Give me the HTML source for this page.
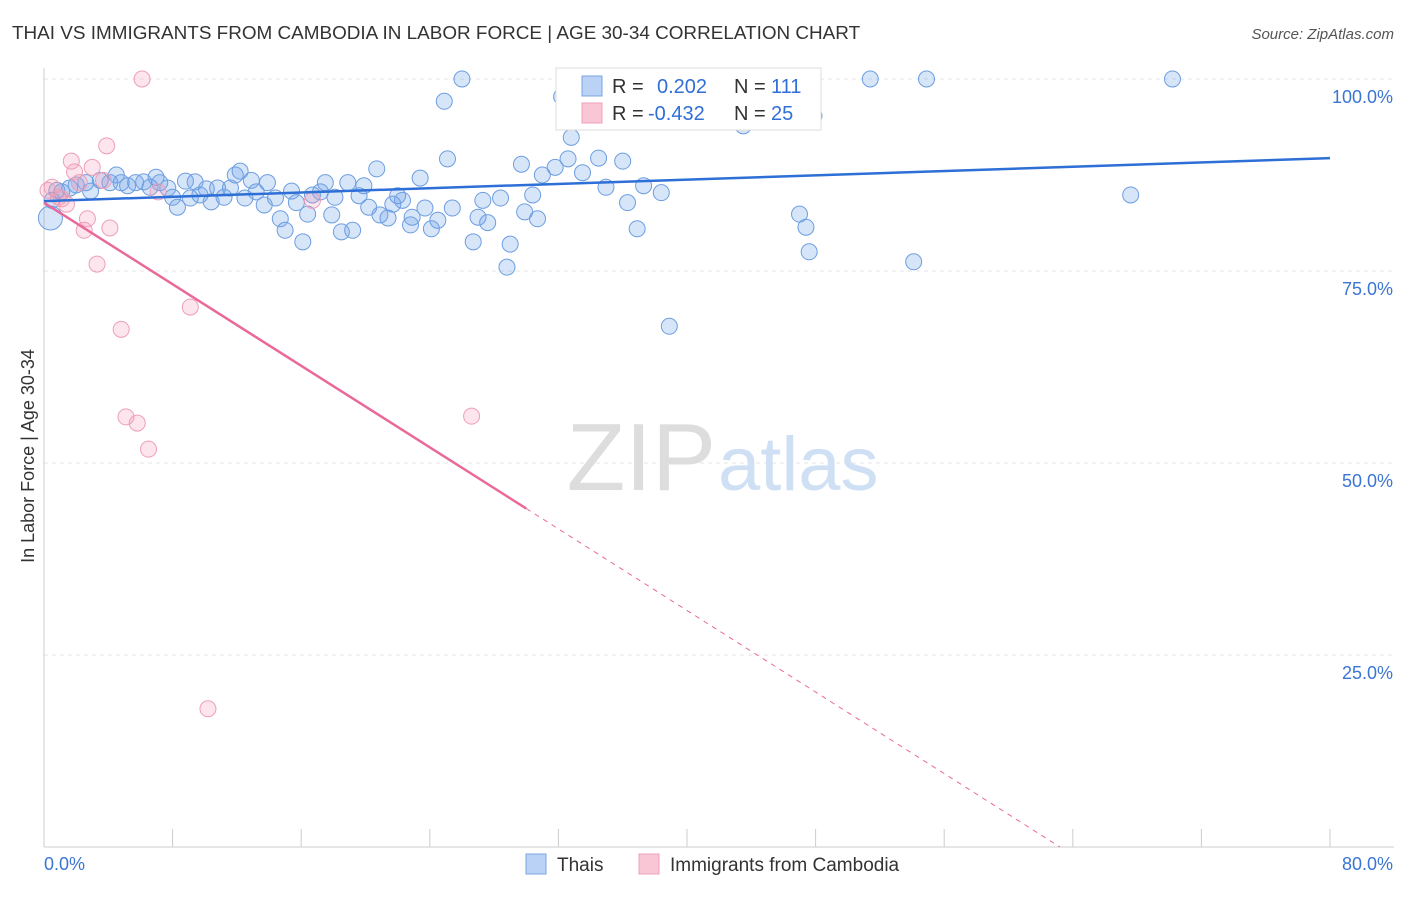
<!DOCTYPE html>
<html><head><meta charset="utf-8"><style>
body{margin:0;background:#fff;font-family:"Liberation Sans",sans-serif}
svg text{font-family:"Liberation Sans",sans-serif}
</style></head><body>
<svg id="chart" width="1406" height="892">
<text x="12" y="39" font-size="18.9" fill="#333">THAI VS IMMIGRANTS FROM CAMBODIA IN LABOR FORCE | AGE 30-34 CORRELATION CHART</text>
<text x="1394" y="39" font-size="15" fill="#555" text-anchor="end" font-style="italic">Source: ZipAtlas.com</text>
<g id="grid"></g>
<text x="716" y="490" font-size="96" fill="#ddd" text-anchor="end" font-family="Liberation Serif">ZIP</text>
<text x="718" y="490" font-size="76" fill="#cfe0f5">atlas</text>
<g id="marks"></g>
<text transform="translate(34,456) rotate(-90)" font-size="18" fill="#333" text-anchor="middle">In Labor Force | Age 30-34</text>
<g>
<rect x="556" y="68" width="265" height="62" fill="#fff" stroke="#ddd"/>
<rect x="582" y="76" width="20" height="20" fill="#b9d2f5" stroke="#7aa6e0"/>
<rect x="582" y="103" width="20" height="20" fill="#f9c6d5" stroke="#eea0b8"/>
<text x="612" y="93" font-size="20" fill="#333">R =</text>
<text x="657" y="93" font-size="20" fill="#2f6fd6">0.202</text>
<text x="734" y="93" font-size="20" fill="#333">N =</text>
<text x="771" y="93" font-size="20" fill="#2f6fd6">111</text>
<text x="612" y="120" font-size="20" fill="#333">R =</text>
<text x="648" y="120" font-size="20" fill="#2f6fd6">-0.432</text>
<text x="734" y="120" font-size="20" fill="#333">N =</text>
<text x="771" y="120" font-size="20" fill="#2f6fd6">25</text>
</g>
<g>
<rect x="526" y="854" width="20" height="20" fill="#b9d2f5" stroke="#7aa6e0"/>
<text x="557" y="871" font-size="19" fill="#333">Thais</text>
<rect x="639" y="854" width="20" height="20" fill="#f9c6d5" stroke="#eea0b8"/>
<text x="670" y="871" font-size="19" fill="#333">Immigrants from Cambodia</text>
</g>
</svg>
<script>
const xTicks=[0,8,16,24,32,40,48,56,64,72,80];
const yTicks=[25,50,75,100];
const yTickLabels=["25.0%","50.0%","75.0%","100.0%"];
const xEndLabels=["0.0%","80.0%"];
const thaiX=[0.4,0.5,0.8,1.1,1.6,2.0,2.6,2.9,3.5,4.1,4.5,4.8,5.2,5.7,6.2,6.6,6.97,7.2,7.7,8.0,8.3,8.8,9.1,9.4,9.7,10.1,10.4,10.8,11.2,11.6,11.9,12.2,12.5,12.9,13.2,13.7,13.9,14.4,14.7,15.0,15.4,15.7,16.1,16.4,16.7,17.2,17.5,17.9,18.1,18.5,18.9,19.2,19.6,19.9,20.2,20.7,20.9,21.4,21.7,22.0,22.3,22.8,22.9,23.4,23.7,24.1,24.5,25.1,24.9,25.4,26.0,26.7,27.0,27.3,27.6,28.4,28.8,29.0,29.7,29.9,30.4,30.7,31.0,31.8,32.2,32.6,32.8,33.5,34.5,34.96,36.0,36.3,36.9,37.3,38.4,38.9,41.6,43.5,47.0,47.4,47.6,47.9,51.4,54.1,54.9,67.6,70.2];
const thaiY=[81.9,84.2,85.5,85.3,85.8,86.2,86.5,85.4,86.8,86.5,87.5,86.5,86.1,86.5,86.6,85.9,87.2,86.5,85.8,84.6,83.3,86.7,84.5,86.6,84.9,85.7,84.0,85.8,84.6,85.8,87.5,88.0,84.5,86.8,85.3,83.6,86.5,84.5,81.8,80.3,85.4,83.9,78.8,82.4,84.9,85.3,86.5,82.3,84.6,80.1,86.5,80.3,84.8,86.1,83.3,88.3,82.3,81.9,83.7,84.8,84.2,81.0,82.0,87.1,83.2,80.5,81.6,89.6,97.1,83.2,100,78.8,82.0,84.2,81.3,84.5,75.5,78.5,88.9,82.7,84.9,81.8,87.5,88.5,97.7,89.6,92.4,87.8,89.7,85.9,89.3,83.9,80.5,86.1,85.2,67.8,100,93.9,82.4,80.7,77.5,95.2,100,76.2,100,84.9,100];
const cambX=[0.25,0.5,0.9,1.1,1.4,1.7,1.9,2.2,2.5,2.7,3.0,3.3,3.7,3.9,4.1,4.8,5.1,5.8,6.1,6.5,7.1,9.1,10.2,16.7,26.6];
const cambY=[85.5,85.9,84.6,84.4,83.7,89.3,87.9,86.5,80.3,81.8,88.5,75.9,86.8,91.3,80.6,67.4,56.0,55.2,100,51.8,85.3,70.3,18.0,84.2,56.1];
const thaiTrend=[84.1,89.7];
const cambTrend=[83.9,0];
const cambTrendEndX=63.2;
const cambSolidEndX=30;

const NS="http://www.w3.org/2000/svg";
const X=v=>44+v*16.075, Y=v=>847-v*7.68;
function mk(t,a,p){const e=document.createElementNS(NS,t);for(const k in a)e.setAttribute(k,a[k]);p.appendChild(e);return e;}
const grid=document.getElementById('grid'), marks=document.getElementById('marks');
yTicks.forEach((v,i)=>{
 const l=mk('line',{x1:44,x2:1394,y1:Y(v),y2:Y(v),stroke:'#e4e4e4','stroke-dasharray':'4,4'},grid);
 
 
 const t=mk('text',{x:1393,y:Y(v)+24,'font-size':18,fill:'#3a75d4','text-anchor':'end'},grid);t.textContent=yTickLabels[i];
 
 
});
const ax=mk('line',{x1:44,x2:1394,y1:847,y2:847,stroke:'#ccc'},grid);


const ay=mk('line',{x1:44,x2:44,y1:68,y2:847,stroke:'#ccc'},grid);


xTicks.forEach(v=>{const l=mk('line',{x1:X(v),x2:X(v),y1:829,y2:847,stroke:'#ccc'},grid);
 
 });
const t0=mk('text',{x:44,y:870,'font-size':18,fill:'#3a75d4'},grid);t0.textContent=xEndLabels[0];


const t1=mk('text',{x:1393,y:870,'font-size':18,fill:'#3a75d4','text-anchor':'end'},grid);t1.textContent=xEndLabels[1];


thaiX.forEach((x,i)=>{const c=mk('circle',{cx:X(x),cy:Y(thaiY[i]),r:i===0?12:8,fill:'rgba(110,160,235,0.28)',stroke:'#6d9ee0','stroke-width':1},marks);
 
 });
cambX.forEach((x,i)=>{const c=mk('circle',{cx:X(x),cy:Y(cambY[i]),r:8,fill:'rgba(245,150,180,0.25)',stroke:'#ee9fb8','stroke-width':1},marks);
 
 });
const tl=mk('line',{x1:X(0),y1:Y(thaiTrend[0]),x2:X(80),y2:Y(thaiTrend[1]),stroke:'#2d6fd6','stroke-width':2.5},marks);


const cy=x=>cambTrend[0]+(cambTrend[1]-cambTrend[0])*x/cambTrendEndX;
const cl=mk('line',{x1:X(0),y1:Y(cambTrend[0]),x2:X(cambSolidEndX),y2:Y(cy(cambSolidEndX)),stroke:'#e8699a','stroke-width':2.5},marks);


const cd=mk('line',{x1:X(cambSolidEndX),y1:Y(cy(cambSolidEndX)),x2:X(cambTrendEndX),y2:Y(0),stroke:'#e8699a','stroke-width':1,'stroke-dasharray':'5,5'},marks);


</script>
</body></html>
